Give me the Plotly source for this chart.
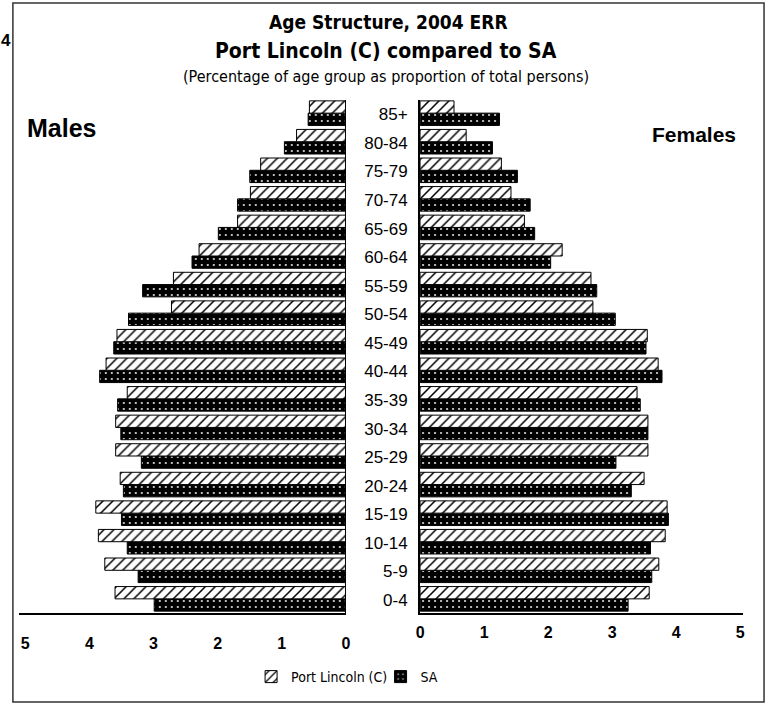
import plotly.graph_objects as go

W, H = 773, 706

age_groups = ["0-4", "5-9", "10-14", "15-19", "20-24", "25-29", "30-34", "35-39", "40-44",
              "45-49", "50-54", "55-59", "60-64", "65-69", "70-74", "75-79", "80-84", "85+"]
male_port_lincoln = [3.60, 3.76, 3.86, 3.90, 3.52, 3.59, 3.59, 3.41, 3.74,
                     3.57, 2.72, 2.69, 2.29, 1.69, 1.49, 1.33, 0.77, 0.57]
male_sa = [2.99, 3.24, 3.41, 3.50, 3.47, 3.19, 3.51, 3.56, 3.84,
           3.62, 3.39, 3.17, 2.40, 1.99, 1.69, 1.50, 0.96, 0.59]
female_port_lincoln = [3.58, 3.73, 3.83, 3.86, 3.50, 3.56, 3.56, 3.39, 3.72,
                       3.55, 2.70, 2.67, 2.22, 1.63, 1.42, 1.27, 0.72, 0.53]
female_sa = [3.25, 3.62, 3.60, 3.88, 3.30, 3.06, 3.56, 3.44, 3.78,
             3.53, 3.05, 2.76, 2.04, 1.79, 1.72, 1.52, 1.13, 1.24]
tick_values = [0, 1, 2, 3, 4, 5]

FONT = "Liberation Sans, Arial, sans-serif"
NARROW = "Liberation Sans Narrow, DejaVu Sans Condensed, Liberation Sans, sans-serif"

def px_x(p):
    return p / W

def px_y(p):
    return 1 - p / H

BAR_W = 0.43
OFF = 0.04

hatch = dict(shape="/", bgcolor="white", fgcolor="black", size=7, solidity=0.22, fillmode="replace")
dots = dict(shape=".", bgcolor="black", fgcolor="white", size=6, solidity=0.08, fillmode="replace")

fig = go.Figure()

# left panel (males)
fig.add_trace(go.Bar(y=age_groups, x=male_sa, orientation="h", xaxis="x", yaxis="y",
                     width=BAR_W, offset=OFF - BAR_W, name="SA", showlegend=False,
                     marker=dict(color="black", pattern=dots, line=dict(color="black", width=1))))
fig.add_trace(go.Bar(y=age_groups, x=male_port_lincoln, orientation="h", xaxis="x", yaxis="y",
                     width=BAR_W, offset=OFF, name="Port Lincoln (C)", showlegend=False,
                     marker=dict(color="white", pattern=hatch, line=dict(color="black", width=1))))
# right panel (females)
fig.add_trace(go.Bar(y=age_groups, x=female_sa, orientation="h", xaxis="x2", yaxis="y",
                     width=BAR_W, offset=OFF - BAR_W, name="SA", legend="legend2",
                     marker=dict(color="black", pattern=dots, line=dict(color="black", width=1))))
fig.add_trace(go.Bar(y=age_groups, x=female_port_lincoln, orientation="h", xaxis="x2", yaxis="y",
                     width=BAR_W, offset=OFF, name="Port Lincoln (C)", legend="legend",
                     marker=dict(color="white", pattern=hatch, line=dict(color="black", width=1))))

y_dom = [px_y(613), px_y(100)]
tick_font = dict(size=16, family=FONT, color="black", weight="bold")

fig.update_layout(
    width=W, height=H,
    margin=dict(l=0, r=0, t=0, b=0),
    paper_bgcolor="white", plot_bgcolor="white",
    barmode="overlay",
    font=dict(family=FONT, color="black"),
    xaxis=dict(domain=[px_x(15), px_x(346)], range=[5.1, 0], anchor="y",
               tickvals=tick_values, ticktext=[str(v) for v in tick_values],
               showgrid=False, zeroline=False, showline=True, linecolor="black", linewidth=2,
               ticks="", ticklabelstandoff=15, tickfont=tick_font),
    xaxis2=dict(domain=[px_x(421), px_x(748)], range=[0, 5.05], anchor="y",
                tickvals=tick_values, ticktext=[str(v) for v in tick_values],
                showgrid=False, zeroline=False, showline=True, linecolor="black", linewidth=2,
                ticks="", ticklabelstandoff=4, tickfont=tick_font),
    yaxis=dict(domain=y_dom, range=[-0.455, 17.5], anchor="x2", side="left",
               type="category", categoryorder="array", categoryarray=age_groups,
               showgrid=False, zeroline=False, showline=True, linecolor="black", linewidth=2,
               ticks="", ticklabelstandoff=7, tickfont=dict(size=17, family=FONT, color="black")),
    legend=dict(orientation="h", x=px_x(250), y=px_y(677), xanchor="left", yanchor="middle",
                font=dict(size=14, family=NARROW, color="black"), bgcolor="rgba(0,0,0,0)"),
    legend2=dict(orientation="h", x=px_x(381), y=px_y(677), xanchor="left", yanchor="middle",
                 font=dict(size=14, family=NARROW, color="black"), bgcolor="rgba(0,0,0,0)"),
    showlegend=True,
)

# left panel zero line
fig.add_shape(type="line", xref="x", yref="paper", x0=0, x1=0, y0=y_dom[0], y1=y_dom[1],
              line=dict(color="black", width=2))
# page frame
fig.add_shape(type="rect", xref="paper", yref="paper", x0=px_x(9), x1=px_x(769),
              y0=px_y(702), y1=px_y(3), line=dict(color="#333", width=1.5))

ann = [
    dict(text="<b>Age Structure, 2004 ERR</b>", x=px_x(389), y=px_y(22), size=19, family=NARROW),
    dict(text="<b>Port Lincoln (C) compared to SA</b>", x=px_x(387), y=px_y(51), size=21, family=NARROW),
    dict(text="(Percentage of age group as proportion of total persons)", x=px_x(387), y=px_y(76), size=16, family=NARROW),
    dict(text="<b>Males</b>", x=px_x(58), y=px_y(128), size=25, family=FONT),
    dict(text="<b>Females</b>", x=px_x(698), y=px_y(134), size=21, family=FONT),
    dict(text="<b>4</b>", x=px_x(2), y=px_y(40), size=17, family=FONT),
]
for a in ann:
    fig.add_annotation(text=a["text"], x=a["x"], y=a["y"], xref="paper", yref="paper",
                       xanchor="center", yanchor="middle", showarrow=False,
                       font=dict(size=a["size"], family=a["family"], color="black"))

fig.write_html("out.html", config={"displayModeBar": False},
               post_script="document.body.style.margin='0';document.body.style.overflow='hidden';")
